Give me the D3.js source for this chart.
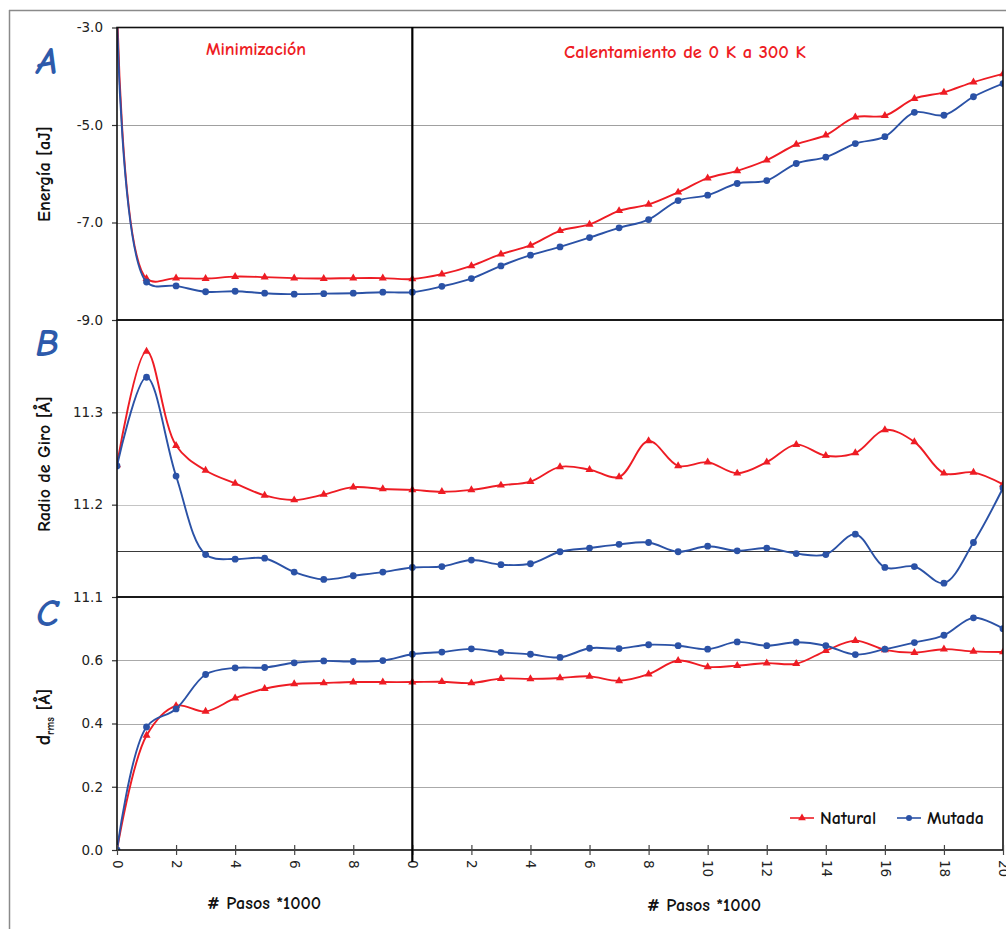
<!DOCTYPE html>
<html>
<head>
<meta charset="utf-8">
<script src="https://cdn.jsdelivr.net/npm/d3@7"></script>
<style>
  html, body { margin: 0; padding: 0; background: #fff; }
  svg { display: block; }
</style>
</head>
<body>
<svg id="chart" width="1006" height="929"></svg>
<script>
// Simulation steps (thousands): 0-10 minimization, then 0-20 heating, on one continuous axis
const pasos = [0,1,2,3,4,5,6,7,8,9,10,11,12,13,14,15,16,17,18,19,20,21,22,23,24,25,26,27,28,29,30];
const tickPos = [0,2,4,6,8,10,12,14,16,18,20,22,24,26,28,30];
const tickLabels = ["0","2","4","6","8","0","2","4","6","8","10","12","14","16","18","20"];

// A: energy [aJ]
const energiaNatural = [-2.3,-8.15,-8.14,-8.15,-8.11,-8.12,-8.14,-8.15,-8.14,-8.14,-8.16,
  -8.06,-7.89,-7.65,-7.47,-7.17,-7.04,-6.76,-6.63,-6.38,-6.09,-5.94,-5.72,-5.40,-5.21,-4.84,-4.81,-4.46,-4.33,-4.12,-3.95];
const energiaMutada = [-2.7,-8.22,-8.30,-8.42,-8.41,-8.45,-8.47,-8.46,-8.45,-8.43,-8.43,
  -8.31,-8.15,-7.89,-7.67,-7.50,-7.31,-7.11,-6.94,-6.55,-6.44,-6.20,-6.14,-5.79,-5.66,-5.38,-5.24,-4.74,-4.80,-4.42,-4.15];

// B: radius of gyration [Å]
const radioNatural = [11.243,11.366,11.264,11.237,11.223,11.210,11.205,11.211,11.219,11.217,11.216,
  11.214,11.216,11.221,11.225,11.241,11.238,11.230,11.269,11.242,11.246,11.234,11.246,11.265,11.253,11.256,11.281,11.268,11.234,11.235,11.222];
const radioMutada = [11.242,11.338,11.231,11.146,11.141,11.142,11.127,11.119,11.123,11.127,11.132,
  11.133,11.140,11.135,11.136,11.149,11.153,11.157,11.159,11.149,11.155,11.150,11.153,11.147,11.146,11.168,11.132,11.133,11.115,11.159,11.218];

// C: rms deviation [Å]
const drmsNatural = [0,0.362,0.456,0.438,0.480,0.510,0.525,0.528,0.531,0.531,0.531,
  0.532,0.528,0.542,0.541,0.544,0.549,0.535,0.556,0.599,0.579,0.583,0.591,0.589,0.630,0.662,0.633,0.624,0.635,0.628,0.626];
const drmsMutada = [0,0.389,0.446,0.555,0.576,0.577,0.592,0.598,0.596,0.599,0.619,
  0.626,0.636,0.625,0.619,0.609,0.638,0.637,0.649,0.646,0.635,0.658,0.646,0.657,0.646,0.618,0.635,0.656,0.679,0.734,0.700];

const ticksA = [-3,-5,-7,-9];
const gridA = [-5,-7];
const ticksB = [11.3,11.2,11.1];
const gridB = [11.3,11.2];
const refB = [11.15];
const ticksC = [0.6,0.4,0.2,0.0];
const gridC = [0.6,0.4,0.2];

const RED = "#ee1c24";
const BLUE = "#2b52a6";
const LETTER = "#2d5aab";
const COMIC = "'Comic Sans MS','Comic Neue','DejaVu Sans',sans-serif";
const TICKFONT = "'DejaVu Sans',Verdana,sans-serif";
const fmt1 = d => d.toFixed(1);

const svg = d3.select("#chart");

// outer frame
svg.append("line").attr("x1", 9).attr("x2", 1006).attr("y1", 10.5).attr("y2", 10.5)
  .attr("stroke", "#8a8a8a").attr("stroke-width", 1.5);
svg.append("line").attr("x1", 9.5).attr("x2", 9.5).attr("y1", 10).attr("y2", 929)
  .attr("stroke", "#8a8a8a").attr("stroke-width", 1.5);

const x = d3.scaleLinear().domain([0, 30]).range([117, 1003]);

const panels = [
  { id: "A", y: d3.scaleLinear().domain([-9, -3]).range([320, 27.5]),
    ticks: ticksA, grid: gridA, gridColor: "#a0a0a0",
    nat: energiaNatural, mut: energiaMutada, letterY: 74 },
  { id: "B", y: d3.scaleLinear().domain([11.1, 11.4]).range([597, 320]),
    ticks: ticksB, grid: gridB, gridColor: "#c4c4c4",
    nat: radioNatural, mut: radioMutada, letterY: 356 },
  { id: "C", y: d3.scaleLinear().domain([0, 0.8]).range([850, 597]),
    ticks: ticksC, grid: gridC, gridColor: "#aaaaaa",
    nat: drmsNatural, mut: drmsMutada, letterY: 626 }
];

const defs = svg.append("defs");

panels.forEach(p => {
  const [y0, y1] = [p.y.range()[1], p.y.range()[0]];
  const g = svg.append("g").attr("class", "panel-" + p.id);

  // grid lines
  g.selectAll(".grid").data(p.grid).join("line")
    .attr("x1", x(0)).attr("x2", x(30))
    .attr("y1", d => Math.round(p.y(d)) + 0.5).attr("y2", d => Math.round(p.y(d)) + 0.5)
    .attr("stroke", p.gridColor).attr("stroke-width", 1.2);

  if (p.id === "B") {
    g.selectAll(".ref").data(refB).join("line")
      .attr("x1", x(0)).attr("x2", x(30))
      .attr("y1", d => Math.round(p.y(d)) + 0.5).attr("y2", d => Math.round(p.y(d)) + 0.5)
      .attr("stroke", "#3a3a3a").attr("stroke-width", 1);
  }

  // y axis ticks and labels
  const ax = d3.axisLeft(p.y).tickValues(p.ticks).tickFormat(fmt1).tickSize(5).tickPadding(9);
  const axg = g.append("g").attr("transform", `translate(${x(0)},0)`).call(ax);
  axg.select(".domain").remove();
  axg.selectAll(".tick line").attr("stroke", "#333").attr("stroke-width", 1.2);
  axg.selectAll(".tick text").attr("fill", "#222").style("font-family", TICKFONT).style("font-size", "13.5px");

  // series
  defs.append("clipPath").attr("id", "clip" + p.id)
    .append("rect").attr("x", x(0)).attr("y", y0).attr("width", x(30) - x(0)).attr("height", y1 - y0);

  const line = d3.line().x((d, k) => x(pasos[k])).y(d => p.y(d)).curve(d3.curveCatmullRom.alpha(0.5));
  const sg = g.append("g").attr("clip-path", `url(#clip${p.id})`);

  sg.append("path").datum(p.nat).attr("d", line)
    .attr("fill", "none").attr("stroke", RED).attr("stroke-width", 1.9);
  sg.selectAll(".tri").data(p.nat).join("path")
    .attr("transform", (d, k) => `translate(${x(pasos[k])},${p.y(d)})`)
    .attr("d", d3.symbol(d3.symbolTriangle, 28))
    .attr("fill", RED);

  sg.append("path").datum(p.mut).attr("d", line)
    .attr("fill", "none").attr("stroke", BLUE).attr("stroke-width", 1.9);
  sg.selectAll(".dot").data(p.mut).join("circle")
    .attr("cx", (d, k) => x(pasos[k])).attr("cy", d => p.y(d)).attr("r", 3.4)
    .attr("fill", BLUE);

  // plot box
  g.append("rect").attr("x", x(0)).attr("y", y0).attr("width", x(30) - x(0)).attr("height", y1 - y0)
    .attr("fill", "none").attr("stroke", "#111").attr("stroke-width", 1.6);

  // panel letter
  svg.append("text").attr("x", 47).attr("y", p.letterY).attr("text-anchor", "middle")
    .attr("fill", LETTER).style("font-family", COMIC).style("font-size", "38px")
    .style("font-style", "italic").style("font-weight", "bold").text(p.id);
});

// x axis (bottom of panel C)
const xAx = d3.axisBottom(x).tickValues(tickPos).tickFormat((d, i) => tickLabels[i]).tickSize(5).tickPadding(0);
const xg = svg.append("g").attr("transform", `translate(0,850)`).call(xAx);
xg.select(".domain").remove();
xg.selectAll(".tick line").attr("y1", -5).attr("y2", 5).attr("stroke", "#444").attr("stroke-width", 1.2);
xg.selectAll(".tick text")
  .attr("transform", "rotate(90)")
  .attr("x", 10).attr("y", 0).attr("dy", "0.35em")
  .attr("text-anchor", "start")
  .attr("fill", "#222").style("font-family", TICKFONT).style("font-size", "13.5px");

// divider between minimization and heating
svg.append("line").attr("x1", x(10)).attr("x2", x(10)).attr("y1", 27).attr("y2", 862)
  .attr("stroke", "#000").attr("stroke-width", 2.2);

// phase titles
svg.append("text").attr("x", 256).attr("y", 55).attr("text-anchor", "middle")
  .attr("fill", RED).style("font-family", COMIC).style("font-size", "18px").style("font-weight", "bold")
  .text("Minimización");
svg.append("text").attr("x", 685).attr("y", 58).attr("text-anchor", "middle")
  .attr("fill", RED).style("font-family", COMIC).style("font-size", "18.5px").style("font-weight", "bold")
  .text("Calentamiento de 0 K a 300 K");

// axis titles
function yTitle(cx, cy) {
  return svg.append("text").attr("transform", `translate(${cx},${cy}) rotate(-90)`)
    .attr("text-anchor", "middle").attr("fill", "#111")
    .style("font-family", COMIC).style("font-size", "18px").style("font-weight", "bold");
}
yTitle(50, 174).text("Energía [aJ]");
yTitle(50, 464).text("Radio de Giro [Å]");
const dt = yTitle(50, 717);
dt.append("tspan").style("font-size", "20px").text("d");
dt.append("tspan").attr("dy", 4).style("font-size", "11px").text("rms");
dt.append("tspan").attr("dy", -4).text(" [Å]");

svg.append("text").attr("x", 264).attr("y", 909).attr("text-anchor", "middle").attr("fill", "#111")
  .style("font-family", COMIC).style("font-size", "18px").style("font-weight", "bold").text("# Pasos *1000");
svg.append("text").attr("x", 704).attr("y", 911).attr("text-anchor", "middle").attr("fill", "#111")
  .style("font-family", COMIC).style("font-size", "18px").style("font-weight", "bold").text("# Pasos *1000");

// legend
const legend = svg.append("g").attr("transform", "translate(790,818)");
const legendItems = [
  { name: "Natural", color: RED, sym: "tri", x0: 0, tx: 30 },
  { name: "Mutada", color: BLUE, sym: "dot", x0: 107, tx: 137 }
];
legendItems.forEach(it => {
  legend.append("line").attr("x1", it.x0).attr("x2", it.x0 + 24).attr("y1", 0).attr("y2", 0)
    .attr("stroke", it.color).attr("stroke-width", 1.6);
  if (it.sym === "tri") {
    legend.append("path").attr("transform", `translate(${it.x0 + 12},0)`)
      .attr("d", d3.symbol(d3.symbolTriangle, 26)).attr("fill", it.color);
  } else {
    legend.append("circle").attr("cx", it.x0 + 12).attr("cy", 0).attr("r", 3).attr("fill", it.color);
  }
  legend.append("text").attr("x", it.tx).attr("y", 0).attr("dy", "0.35em").attr("fill", "#111")
    .style("font-family", COMIC).style("font-size", "18px").style("font-weight", "bold").text(it.name);
});
</script>
</body>
</html>
